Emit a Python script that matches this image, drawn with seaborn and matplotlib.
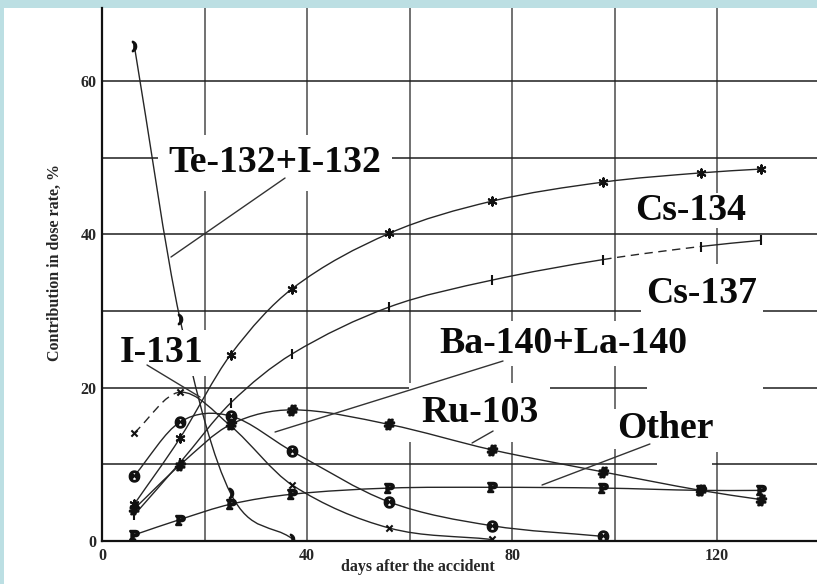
import numpy as np
import matplotlib
matplotlib.use("Agg")
import matplotlib.pyplot as plt
import seaborn as sns
from matplotlib.path import Path
from matplotlib.patches import PathPatch, Rectangle
from matplotlib.ticker import MultipleLocator, FuncFormatter

# ---------------- data ----------------
days = [6.3, 15.2, 25.1, 37.1, 56.0, 76.0, 97.8, 116.8, 128.6]
cs134 = [4.8, 13.4, 24.3, 32.9, 40.1, 44.3, 46.8, 48.0, 48.5]
cs137 = [3.4, 10.2, 18.0, 24.4, 30.5, 34.0, 36.7, 38.4, 39.2]
ru103 = [4.2, 9.9, 15.2, 17.1, 15.2, 11.9, 9.0, 6.6, 5.4]
other = [0.8, 2.8, 4.8, 6.1, 6.9, 7.0, 6.9, 6.6, 6.6]
i131 = [14.1, 19.4, 15.0, 7.3, 1.7, 0.2]
ba140 = [8.5, 15.5, 16.3, 11.7, 5.1, 2.0, 0.6]
te132 = [64.6, 29.0, 6.2, 0.3]

x_ticklabels = [0, 40, 80, 120]
y_ticklabels = [0, 20, 40, 60]

# ---------------- style ----------------
sns.set_theme(style="white")
plt.rcParams["font.family"] = ["Liberation Serif", "DejaVu Serif"]
plt.rcParams["mathtext.fontset"] = "dejavuserif"

W, H = 817, 584
fig = plt.figure(figsize=(W / 100, H / 100), dpi=100)
fig.patch.set_facecolor("#bcdfe3")
fig.add_artist(Rectangle((4 / W, 0), 1 - 4 / W, (H - 8) / H,
                         transform=fig.transFigure, facecolor="white",
                         edgecolor="none", zorder=-10))

ax = fig.add_axes([102 / W, 43 / H, 715 / W, 533 / H])
ax.set_facecolor("white")
ax.set_xlim(0, 139.5)
ax.set_ylim(0, 69.5)
ax.set_axisbelow(True)

for s in ["top", "right"]:
    ax.spines[s].set_visible(False)
for s in ["left", "bottom"]:
    ax.spines[s].set_color("#111")
    ax.spines[s].set_linewidth(1.6)

ax.xaxis.set_major_locator(MultipleLocator(20))
ax.xaxis.set_minor_locator(MultipleLocator(2))
ax.yaxis.set_major_locator(MultipleLocator(10))
ax.yaxis.set_minor_locator(MultipleLocator(1))
ax.xaxis.set_major_formatter(FuncFormatter(
    lambda v, p: f"{int(round(v))}" if int(round(v)) in x_ticklabels else ""))
ax.yaxis.set_major_formatter(FuncFormatter(
    lambda v, p: f"{int(round(v))}" if int(round(v)) in y_ticklabels else ""))

ax.tick_params(axis="x", which="both", direction="in", length=8.5,
               width=1.0, color="#222", pad=5)
ax.tick_params(axis="y", which="both", direction="in", length=10,
               width=1.0, color="#222", pad=4)
for lab in ax.get_xticklabels() + ax.get_yticklabels():
    lab.set_fontsize(11.5)
    lab.set_fontweight("bold")

ax.xaxis.grid(True, which="major", color="#666666", lw=1.3)
ax.yaxis.grid(True, which="major", color="#1e1e1e", lw=1.1)

ax.set_xlabel("days after the accident", fontsize=11.5, fontweight="bold",
              va="center")
ax.xaxis.set_label_coords(0.442, -0.049)
ax.set_ylabel("Contribution in dose rate, %", fontsize=11.5,
              fontweight="bold", va="center")
ax.yaxis.set_label_coords(-0.066, 0.523)


# ---------------- smooth curves through the points ----------------
def hermite_segments(xs, ys):
    x = np.asarray(xs, float)
    y = np.asarray(ys, float)
    n = len(x)
    m = np.zeros(n)
    m[0] = (y[1] - y[0]) / (x[1] - x[0])
    m[-1] = (y[-1] - y[-2]) / (x[-1] - x[-2])
    for i in range(1, n - 1):
        m[i] = (y[i + 1] - y[i - 1]) / (x[i + 1] - x[i - 1])
    segs = []
    for i in range(n - 1):
        h = x[i + 1] - x[i]
        verts = [(x[i], y[i]),
                 (x[i] + h / 3, y[i] + m[i] * h / 3),
                 (x[i + 1] - h / 3, y[i + 1] - m[i + 1] * h / 3),
                 (x[i + 1], y[i + 1])]
        segs.append(Path(verts, [Path.MOVETO, Path.CURVE4, Path.CURVE4, Path.CURVE4]))
    return segs


def draw_curve(xs, ys, z, dashed=(), color="#262626", lw=1.0):
    for i, p in enumerate(hermite_segments(xs, ys)):
        ls = (0, (6, 4)) if i in dashed else "-"
        ax.add_patch(PathPatch(p, facecolor="none", edgecolor=color,
                               lw=lw, ls=ls, zorder=z))


series = [
    (days, cs134, (6, 2, 0), 36, 4, ()),
    (days, cs137, "|", 50, 4, (6,)),
    (days, ru103, r"$\#$", 50, 4, ()),
    (days, other, r"$\mathbf{P}$", 45, 4, ()),
    (days[:len(i131)], i131, "x", 20, 4, (0,)),
    (days[:len(ba140)], ba140, r"$\Theta$", 55, 4, ()),
    (days[:len(te132)], te132, r"$\mathbf{)}$", 50, 2, ()),
]

for xs, ys, mk, sz, z, dashed in series:
    draw_curve(xs, ys, z, dashed)
    sns.scatterplot(x=xs, y=ys, marker=mk, s=sz, color="#111111",
                    linewidth=1.5, edgecolor="#111111", ax=ax, zorder=z + 0.5,
                    legend=False)

# blank (white) patches that hide parts of the grid in the original
masks = [
    (106.3, 18.4, 22.7, 17.7),
    (108.3, 11.6, 12.3, 6.8),
    (108.3, 9.6, 10.7, 2.1),
]
for mx, my, mw, mh in masks:
    ax.add_patch(Rectangle((mx, my), mw, mh, facecolor="white",
                           edgecolor="none", zorder=2.8))

# ---------------- labels with white boxes and leader lines ----------------
labels = [
    ("Te-132+I-132", 33.8, 48.1, 0.28),
    ("I-131", 11.7, 23.3, 0.14),
    ("Cs-134", 114.9, 41.9, 0.0),
    ("Cs-137", 117.0, 31.0, 0.14),
    ("Ba-140+La-140", 90.0, 24.5, 0.14),
    ("Ru-103", 73.7, 15.5, 0.31),
    ("Other", 109.9, 13.4, 0.07),
]
for txt, lx, ly, pad in labels:
    ax.text(lx, ly, txt, ha="center", va="baseline", fontsize=27.2,
            fontweight="bold", color="#0a0a0a", zorder=3,
            bbox=dict(boxstyle=f"square,pad={pad}", fc="white", ec="none"))

leaders = [
    ((13.46, 37.03), (35.71, 47.33)),
    ((8.78, 22.95), (19.12, 18.77)),
    ((33.76, 14.21), (78.24, 23.47)),
    ((72.2, 12.78), (76.3, 14.34)),
    ((85.85, 7.3), (106.9, 12.65)),
]
for (x0, y0), (x1, y1) in leaders:
    ax.plot([x0, x1], [y0, y1], color="#333333", lw=1.0, zorder=5)

fig.savefig("out.png", dpi=100, facecolor=fig.get_facecolor())
